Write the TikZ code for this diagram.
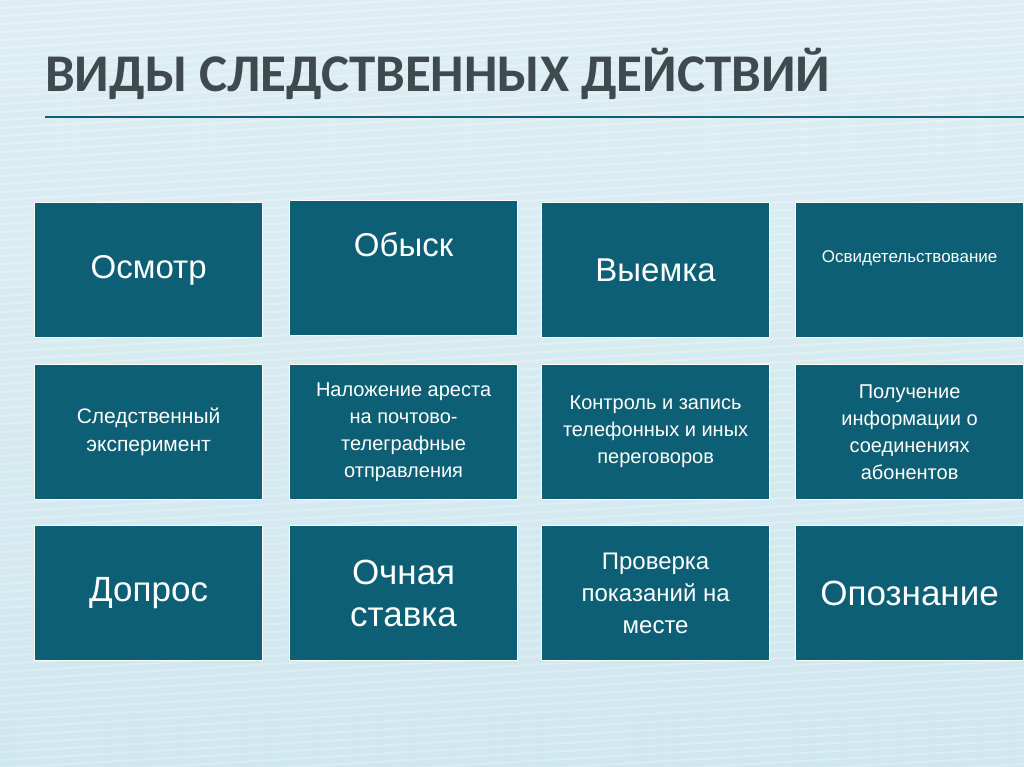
\documentclass[tikz,border=0pt]{standalone}
\usepackage{fontspec}
\setmainfont{Liberation Sans}
\newfontfamily\titlefont{Carlito}
\begin{document}
\begin{tikzpicture}[x=1pt,y=-1pt,
 cell/.style={draw=white,line width=1.2pt,fill=boxc,text=white,align=center,minimum width=228pt,minimum height=135pt,anchor=north west,inner sep=4pt}]
\definecolor{boxc}{HTML}{0C5F75}
\definecolor{bgc}{HTML}{CFE7EE}
\definecolor{titc}{HTML}{3F4A4F}
\useasboundingbox (0,0) rectangle (1024,767);
\shade[top color=bgc!70!white,bottom color=bgc] (0,0) rectangle (1024,767);
\foreach \i in {0,8,...,1000} \draw[white,opacity=0.25,line width=2pt] (0,\i) -- (1024,\i-60);
\node[anchor=west,font=\titlefont\bfseries\fontsize{53}{60}\selectfont,text=titc,inner sep=0] (t) at (45,74) {ВИДЫ СЛЕДСТВЕННЫХ ДЕЙСТВИЙ};
\draw[boxc,line width=1.5pt] (45,117) -- (1024,117);
\node[cell,font=\fontsize{33}{38}\selectfont] (a1) at (34,202) {Осмотр};
\node[cell,font=\fontsize{33}{38}\selectfont] (a2) at (289,200) {Обыск\\[10pt]};
\node[cell,font=\fontsize{33}{38}\selectfont] (a3) at (541,202) {Выемка};
\node[cell,font=\fontsize{17}{21}\selectfont] (a4) at (795,202) {Освидетельствование\\[6pt]};
\node[cell,font=\fontsize{21}{28}\selectfont] (b1) at (34,364) {Следственный\\эксперимент};
\node[cell,font=\fontsize{20}{27}\selectfont] (b2) at (289,364) {Наложение ареста\\на почтово-\\телеграфные\\отправления};
\node[cell,font=\fontsize{20}{27}\selectfont] (b3) at (541,364) {Контроль и запись\\телефонных и иных\\переговоров};
\node[cell,font=\fontsize{20}{27}\selectfont] (b4) at (795,364) {Получение\\информации о\\соединениях\\абонентов};
\node[cell,font=\fontsize{35}{42}\selectfont] (c1) at (34,525) {Допрос};
\node[cell,font=\fontsize{35}{42}\selectfont] (c2) at (289,525) {Очная\\ставка};
\node[cell,font=\fontsize{24}{32}\selectfont] (c3) at (541,525) {Проверка\\показаний на\\месте};
\node[cell,font=\fontsize{35}{42}\selectfont] (c4) at (795,525) {Опознание};
\end{tikzpicture}
\end{document}
